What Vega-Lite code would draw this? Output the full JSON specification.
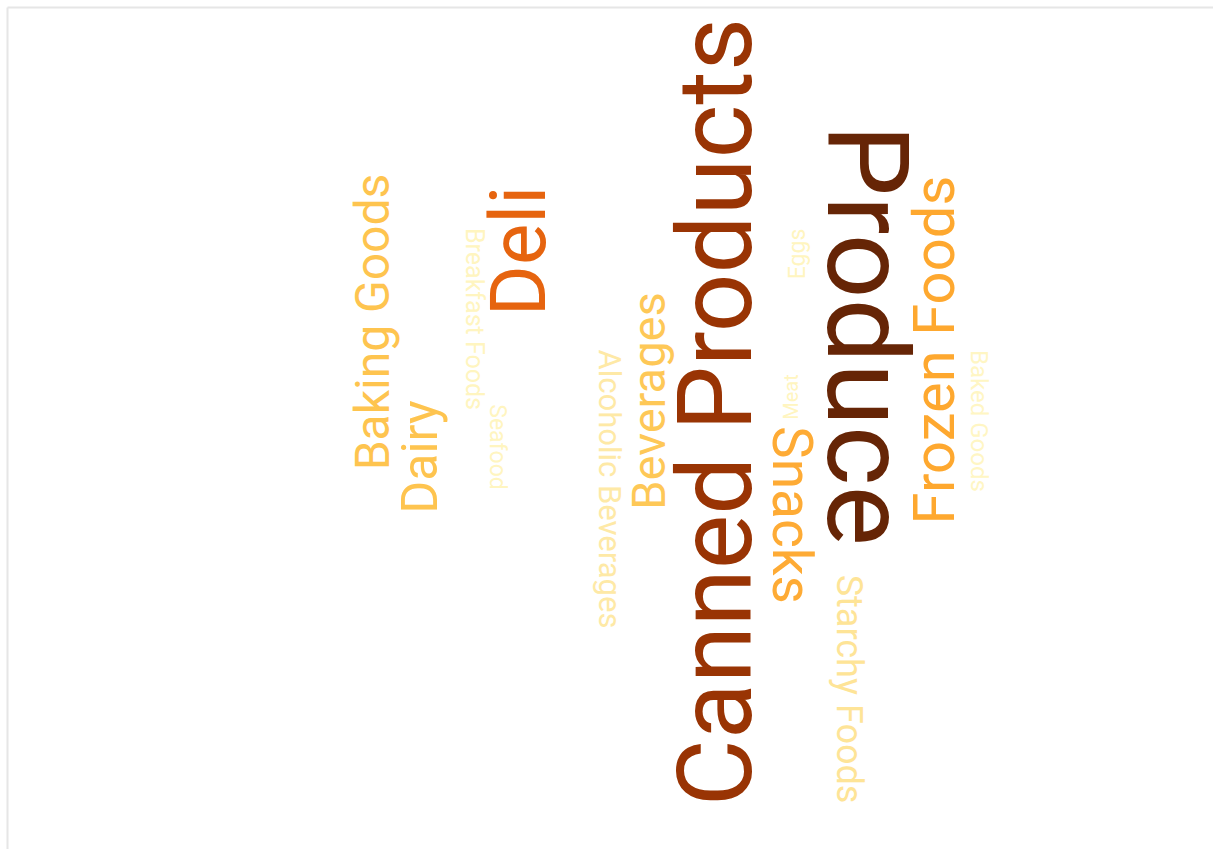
{
  "$schema": "https://vega.github.io/schema/vega-lite/v6.json",
  "width": 1206,
  "height": 842,
  "autosize": {"type": "none"},
  "padding": {"left": 7, "top": 7, "right": 0, "bottom": 0},
  "background": "white",
  "config": {"view": {"stroke": null}},
  "data": {
    "values": [
      {"word": "Produce", "value": 114, "dir": "down", "x": 862, "y": 335},
      {"word": "Canned Products", "value": 103, "dir": "up", "x": 720, "y": 412},
      {"word": "Deli", "value": 78, "dir": "up", "x": 522, "y": 251},
      {"word": "Frozen Foods", "value": 58, "dir": "up", "x": 937, "y": 350},
      {"word": "Snacks", "value": 55, "dir": "down", "x": 790, "y": 515},
      {"word": "Dairy", "value": 50, "dir": "up", "x": 422, "y": 457},
      {"word": "Baking Goods", "value": 48, "dir": "up", "x": 375, "y": 322},
      {"word": "Beverages", "value": 47, "dir": "up", "x": 651, "y": 401},
      {"word": "Starchy Foods", "value": 36, "dir": "down", "x": 848, "y": 689},
      {"word": "Alcoholic Beverages", "value": 31, "dir": "down", "x": 608, "y": 489},
      {"word": "Breakfast Foods", "value": 25, "dir": "down", "x": 474, "y": 319},
      {"word": "Baked Goods", "value": 24, "dir": "down", "x": 978, "y": 421},
      {"word": "Seafood", "value": 23, "dir": "down", "x": 497, "y": 447},
      {"word": "Eggs", "value": 23, "dir": "up", "x": 798, "y": 254},
      {"word": "Meat", "value": 20, "dir": "up", "x": 792, "y": 397}
    ]
  },
  "mark": {"type": "text", "font": "Roboto", "align": "center", "baseline": "middle"},
  "encoding": {
    "x": {
      "field": "x", "type": "quantitative",
      "scale": {"domain": [7, 1213], "nice": false, "zero": false},
      "axis": {"orient": "top", "domainColor": "#e6e6e6", "domainWidth": 2, "ticks": false, "labels": false, "grid": false, "title": null}
    },
    "y": {
      "field": "y", "type": "quantitative",
      "scale": {"domain": [7, 849], "nice": false, "zero": false, "reverse": true},
      "axis": {"orient": "left", "domainColor": "#e6e6e6", "domainWidth": 2, "ticks": false, "labels": false, "grid": false, "title": null}
    },
    "text": {"field": "word", "type": "nominal"},
    "size": {"field": "value", "type": "quantitative", "scale": {"domain": [20, 114], "range": [20, 114], "zero": false}, "legend": null},
    "angle": {"field": "dir", "type": "nominal", "scale": {"domain": ["up", "down"], "range": [270, 90]}, "legend": null},
    "color": {
      "field": "word", "type": "nominal", "legend": null,
      "scale": {
        "domain": ["Produce", "Canned Products", "Deli", "Frozen Foods", "Snacks", "Dairy", "Baking Goods", "Beverages", "Starchy Foods", "Alcoholic Beverages", "Breakfast Foods", "Baked Goods", "Seafood", "Eggs", "Meat"],
        "range": ["#662506", "#993404", "#e6640f", "#fea82f", "#feab35", "#fec44f", "#fec44f", "#fec857", "#fee497", "#fee9a6", "#fff5c0", "#fff6c4", "#fff5c0", "#fff5c0", "#fff5c0"]
      }
    }
  }
}
